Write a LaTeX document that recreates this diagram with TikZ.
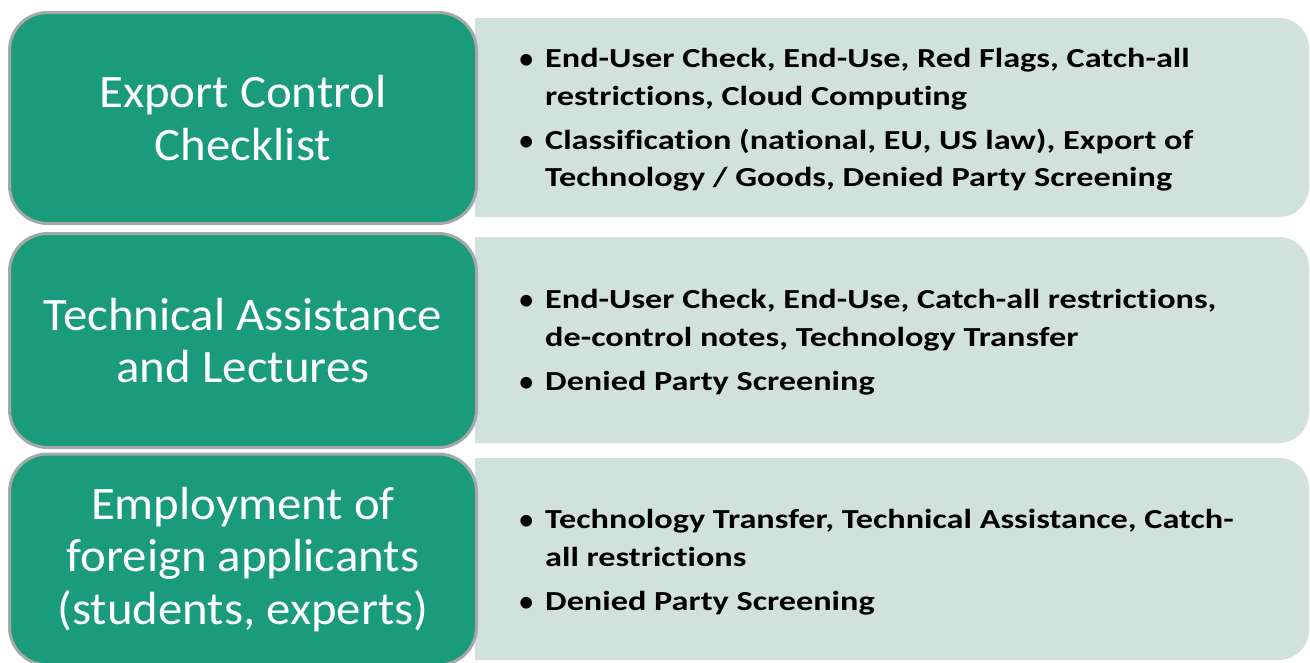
\documentclass[tikz,border=0pt]{standalone}
\usepackage{fontspec}
\setmainfont{Carlito}[Ligatures=NoCommon]
\newfontfamily\headfont{Carlito}[Ligatures=NoCommon, FakeStretch=1.05]
\newfontfamily\bodyfont{Carlito}[Ligatures=NoCommon, FakeStretch=1.245]
\definecolor{boxgreen}{RGB}{26,156,124}
\definecolor{boxlight}{RGB}{209,226,221}
\definecolor{boxedge}{RGB}{166,168,168}
\begin{document}
\begin{tikzpicture}[x=1pt,y=-1pt,
  greenbox/.style={draw=boxedge, line width=3pt, fill=boxgreen, rounded corners=38pt,
    minimum width=467pt, inner sep=0pt, text=white, align=center,
    font={\headfont\fontsize{46.5}{52.5}\selectfont}},
  lightfill/.style={fill=boxlight},
  bullettext/.style={anchor=west, inner sep=0pt, align=left,
    font={\bodyfont\fontsize{27.5}{37.5}\selectfont\bfseries}}]
\useasboundingbox (0,0) rectangle (1310,662);
\newcommand{\bul}{\makebox[27pt][l]{\raisebox{-2pt}{\normalfont\fontsize{33}{33}\selectfont •}}}
\newcommand{\ind}{\hspace*{27pt}}
% light panels (square left corners, rounded right corners)
\fill[lightfill] (475,18) [rounded corners=30pt] -- (1309,18) -- (1309,217) [sharp corners] -- (475,217) -- cycle;
\fill[lightfill] (475,237) [rounded corners=30pt] -- (1309,237) -- (1309,443) [sharp corners] -- (475,443) -- cycle;
\fill[lightfill] (475,458) [rounded corners=30pt] -- (1309,458) -- (1309,660) [sharp corners] -- (475,660) -- cycle;
% green boxes
\node[greenbox, minimum height=211pt] (g1) at (243,118) {Export Control\\Checklist};
\node[greenbox, minimum height=214pt] (g2) at (243,340.5) {Technical Assistance\\and Lectures};
\node[greenbox, minimum height=211pt] (g3) at (243,559.5) {Employment of\\foreign applicants\\(students, experts)};
% bullet texts
\node[bullettext] (t1) at (518,120) {\bul End-User Check, End-Use, Red Flags, Catch-all\\
  \ind restrictions, Cloud Computing\\[6.5pt]
  \bul Classification (national, EU, US law), Export of\\
  \ind Technology / Goods, Denied Party Screening};
\node[bullettext] (t2) at (518,342) {\bul End-User Check, End-Use, Catch-all restrictions,\\
  \ind de-control notes, Technology Transfer\\[6.5pt]
  \bul Denied Party Screening};
\node[bullettext] (t3) at (518,562) {\bul Technology Transfer, Technical Assistance, Catch-\\
  \ind all restrictions\\[6.5pt]
  \bul Denied Party Screening};
\end{tikzpicture}
\end{document}
